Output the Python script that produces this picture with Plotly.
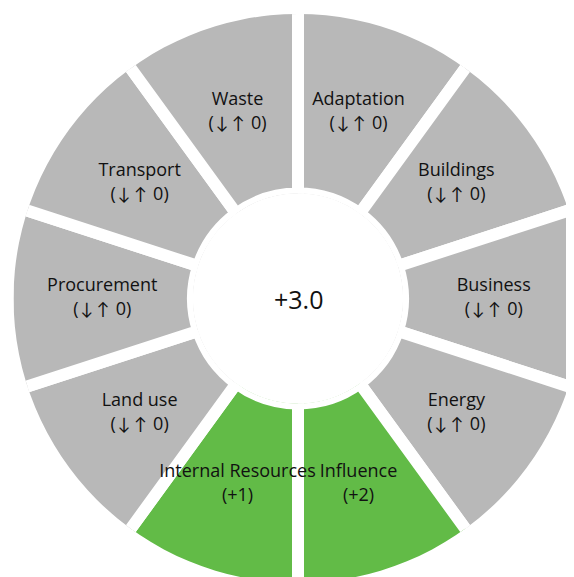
import plotly.graph_objects as go

# Segments listed clockwise starting from the top (12 o'clock)
categories = ["Adaptation", "Buildings", "Business", "Energy", "Influence",
              "Internal Resources", "Land use", "Procurement", "Transport", "Waste"]
score_labels = ["(↓↑ 0)", "(↓↑ 0)", "(↓↑ 0)", "(↓↑ 0)", "(+2)",
                "(+1)", "(↓↑ 0)", "(↓↑ 0)", "(↓↑ 0)", "(↓↑ 0)"]
segment_size = [1, 1, 1, 1, 1, 1, 1, 1, 1, 1]
highlighted = [False, False, False, False, True, True, False, False, False, False]
total_label = "+3.0"

GREY = "#B8B8B8"
GREEN = "#62BB47"
FONT = "'Open Sans', Calibri, sans-serif"

W, H = 600, 600
cx, cy, R = 290, 290.5, 284.5
dom_x = [(cx - R) / W, (cx + R) / W]
dom_y = [(H - cy - R) / H, (H - cy + R) / H]

colors = [GREEN if h else GREY for h in highlighted]
texts = [f"{c}<br>{s}" for c, s in zip(categories, score_labels)]

fig = go.Figure()
fig.add_trace(go.Barpolar(
    r=segment_size,
    base=0,
    theta=categories,
    marker=dict(color=colors, line=dict(color="white", width=12)),
    hoverinfo="skip",
    showlegend=False,
))
fig.add_trace(go.Scatterpolar(
    r=[0.505] * len(categories),
    theta=categories,
    mode="text",
    text=texts,
    textposition="middle center",
    textfont=dict(family=FONT, size=18, color="#111111"),
    hoverinfo="skip",
    showlegend=False,
))

fig.update_layout(
    width=W, height=H,
    margin=dict(l=0, r=0, t=0, b=0),
    paper_bgcolor="white",
    plot_bgcolor="white",
    polar=dict(
        domain=dict(x=dom_x, y=dom_y),
        hole=0.369,
        bargap=0,
        bgcolor="white",
        radialaxis=dict(range=[0.05, 0.95], visible=False, showgrid=False),
        angularaxis=dict(type="category", rotation=72, direction="clockwise",
                         visible=False, showgrid=False, showline=False),
    ),
    annotations=[dict(
        text=total_label, x=(dom_x[0] + dom_x[1]) / 2, y=(dom_y[0] + dom_y[1]) / 2,
        xref="paper", yref="paper", showarrow=False,
        font=dict(family=FONT, size=25, color="#111111"),
    )],
)

fig.write_html("out.html")
